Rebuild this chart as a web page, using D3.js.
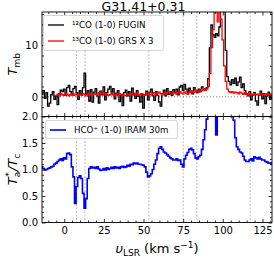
<!DOCTYPE html>
<html><head><meta charset="utf-8">
<script src="https://cdn.jsdelivr.net/npm/d3@7"></script>
<style>body{margin:0;background:#fff} text{font-family:"DejaVu Sans",sans-serif}</style>
</head><body><svg id="c" width="274" height="259"></svg>
<script>
// channel grids (km/s), 1 km/s channels
const co12Start = -14, co13Start = -5, hcoStart = -14;
// 12CO (1-0) FUGIN, Tmb
const co12 = [
 0.5,1.2,-0.3,0.8,-1.8,-1.2,0.4,1.0,-0.5,0.2,-1.5,0.6,1.3,1.0,
 1.5,0.3,1.8,2.2,1.0,0.4,1.6,2.0,0.8,-0.5,
 1.2,0.6,1.8,4.6,0.5,1.2,-0.8,1.4,-1.0,0.9,
 1.6,0.2,-1.2,1.1,0.4,1.9,-0.6,0.8,1.5,2.0,
 0.9,1.6,-0.4,0.7,1.2,-0.9,0.3,-1.7,0.8,1.3,
 0.2,1.0,-0.8,1.7,0.5,-0.3,1.2,0.1,-1.0,0.6,
 -2.2,0.4,1.1,-0.6,0.9,1.5,0.2,-0.7,1.0,0.3,
 -1.0,-1.8,0.6,1.3,0.2,1.6,0.5,1.0,0.3,1.4,
 0.8,1.5,0.4,1.9,2.2,1.2,2.4,1.5,0.9,1.7,
 1.1,0.6,1.8,1.2,0.8,1.5,1.0,1.9,1.6,1.3,
 1.8,3.5,9.5,13.9,12.0,11.5,12.2,11.8,13.5,18.0,
 19.0,16.5,9.0,3.9,3.0,2.3,3.3,2.6,3.6,2.2,
 2.9,3.8,1.8,2.5,1.2,0.5,0.2,1.0,-0.6,0.4,
 0.8,-0.8,-1.6,0.3,1.1,-0.4,0.6,-1.3,0.2,0.9,-0.5,0.4
];
// 13CO (1-0) GRS x 3, Tmb
const co13 = [
 0.3,0.5,0.2,0.6,0.4,0.3,0.7,0.5,0.2,0.4,0.6,0.3,0.5,0.4,0.2,
 0.5,0.3,0.6,0.4,0.2,0.5,0.7,0.3,0.4,0.6,0.5,0.3,0.8,0.9,0.6,0.4,0.7,0.5,0.3,0.4,
 0.6,0.4,0.2,0.5,0.3,0.6,0.4,0.5,0.3,0.2,0.5,0.4,0.6,0.3,0.5,0.7,0.4,0.3,0.5,0.6,
 0.4,0.3,0.5,0.7,0.5,0.4,0.6,0.8,0.5,0.7,0.9,0.6,0.4,0.7,0.5,0.8,1.0,0.7,0.6,0.9,
 0.7,0.5,0.8,1.0,0.7,0.6,0.9,0.7,0.5,0.8,1.2,1.0,0.8,1.3,1.1,0.9,1.4,1.2,1.6,1.3,
 1.5,2.0,4.5,9.5,13.0,16.8,16.5,14.5,16.2,15.0,11.0,6.0,3.0,1.5,1.0,0.8,1.0,0.7,0.9,0.8,
 0.6,0.9,0.7,0.5,0.8,0.6,0.4,0.7,0.5,0.3,0.6,0.4,0.5,0.3,0.6,0.4,0.5,0.3,0.6,0.4,0.5,0.4
];
// HCO+ (1-0) IRAM 30m, Ta*/Tc
const hco = [
 1.05,1.02,0.99,1.0,1.02,1.03,1.05,1.06,1.1,1.12,1.15,1.18,1.2,1.17,
 1.22,1.2,1.3,1.31,1.28,1.05,0.86,0.36,0.68,0.85,
 0.88,0.83,0.55,0.27,0.45,0.83,1.02,1.05,1.03,1.04,
 1.02,1.05,1.01,0.98,0.99,1.02,0.99,1.03,1.0,1.02,
 1.04,1.02,1.05,1.03,1.04,1.02,1.05,1.06,1.04,1.05,
 1.08,1.06,1.1,1.09,1.12,1.11,1.12,1.1,1.1,1.09,
 1.08,1.05,0.95,0.86,0.88,0.92,1.0,1.1,1.18,1.3,
 1.4,1.43,1.38,1.33,1.31,1.28,1.25,1.22,1.2,1.18,
 1.18,1.2,1.17,1.18,1.1,1.05,1.2,1.27,1.32,1.38,
 1.4,1.37,1.3,1.22,1.2,1.24,1.27,1.38,1.56,1.75,
 1.95,2.3,2.6,2.6,2.5,2.2,1.65,2.2,2.6,2.8,
 2.7,2.6,2.5,2.4,2.3,2.2,2.1,1.93,1.6,1.43,
 1.38,1.33,1.31,1.25,1.18,1.15,1.15,1.18,1.2,1.16,
 1.24,1.22,1.2,1.23,1.2,1.18,1.18,1.15,1.14,1.12,1.12,1.1
];
const velLines = [7.8, 13.1, 53.4, 75, 83.6, 117.2];
const xTicks = [0, 25, 50, 75, 100, 125];
const xMinor = [-10,-5,5,10,15,20,30,35,40,45,55,60,65,70,80,85,90,95,105,110,115,120,130];
const topYTicks = [0, 10];
const topYMinor = [-2,2,4,6,8,12,14,16];
const botYTicks = [0, 0.5, 1, 1.5, 2];
const botYLabels = ["0.0","0.5","1.0","1.5","2.0"];
const botYMinor = [0.1,0.2,0.3,0.4,0.6,0.7,0.8,0.9,1.1,1.2,1.3,1.4,1.6,1.7,1.8,1.9];
const title = "G31.41+0.31";

const svg = d3.select("#c");
const L = 42, R = 272;
const x = d3.scaleLinear().domain([-14, 131]).range([L, R]);
const yTop = d3.scaleLinear().domain([-3.8, 16.4]).range([116.5, 12]);
const yBot = d3.scaleLinear().domain([0, 2]).range([222.5, 116.5]);

const toPts = (arr, start) => arr.map((v, i) => [start + i, v]);

function panel(id, y) {
  const g = svg.append("g");
  svg.append("clipPath").attr("id", id).append("rect")
    .attr("x", L).attr("y", y.range()[1]).attr("width", R - L).attr("height", y.range()[0] - y.range()[1]);
  const inner = g.append("g").attr("clip-path", `url(#${id})`);
  inner.selectAll("line.v").data(velLines).join("line")
    .attr("x1", d => x(d)).attr("x2", d => x(d))
    .attr("y1", y.range()[1]).attr("y2", y.range()[0])
    .attr("stroke", "#aaa").attr("stroke-width", 0.8).attr("stroke-dasharray", "2,1.5");
  return {g, inner};
}

function drawAxes(g, y, yMaj, yMin, yFmt, xLabels) {
  const y0 = y.range()[0], y1 = y.range()[1];
  const style = sel => { sel.select(".domain").remove(); sel.selectAll("line").attr("stroke", "#000").attr("stroke-width", 0.8); sel.selectAll("text").attr("font-size", 10).attr("fill", "#000").attr("font-family", "DejaVu Sans"); };
  g.append("g").attr("transform", `translate(0,${y0})`).call(d3.axisBottom(x).tickValues(xTicks).tickSize(-3.5).tickPadding(4).tickFormat(xLabels ? d3.format("d") : () => "")).call(style);
  g.append("g").attr("transform", `translate(0,${y0})`).call(d3.axisBottom(x).tickValues(xMinor).tickSize(-2).tickFormat(() => "")).call(style);
  g.append("g").attr("transform", `translate(0,${y1})`).call(d3.axisTop(x).tickValues(xTicks).tickSize(-3.5).tickFormat(() => "")).call(style);
  g.append("g").attr("transform", `translate(0,${y1})`).call(d3.axisTop(x).tickValues(xMinor).tickSize(-2).tickFormat(() => "")).call(style);
  g.append("g").attr("transform", `translate(${L},0)`).call(d3.axisLeft(y).tickValues(yMaj).tickSize(-3.5).tickPadding(4).tickFormat(yFmt)).call(style);
  g.append("g").attr("transform", `translate(${L},0)`).call(d3.axisLeft(y).tickValues(yMin).tickSize(-2).tickFormat(() => "")).call(style);
  g.append("g").attr("transform", `translate(${R},0)`).call(d3.axisRight(y).tickValues(yMaj).tickSize(-3.5).tickFormat(() => "")).call(style);
  g.append("g").attr("transform", `translate(${R},0)`).call(d3.axisRight(y).tickValues(yMin).tickSize(-2).tickFormat(() => "")).call(style);
  g.append("rect").attr("x", L).attr("y", y1).attr("width", R - L).attr("height", y0 - y1)
    .attr("fill", "none").attr("stroke", "#000").attr("stroke-width", 0.9);
}

// top panel
const topP = panel("clipTop", yTop);
topP.inner.append("line").attr("x1", L).attr("x2", R).attr("y1", yTop(0)).attr("y2", yTop(0))
  .attr("stroke", "#777").attr("stroke-width", 1).attr("stroke-dasharray", "1,2");
const lineTop = d3.line().x(d => x(d[0])).y(d => yTop(d[1])).curve(d3.curveStep);
topP.inner.append("path").attr("d", lineTop(toPts(co12, co12Start))).attr("fill", "none").attr("stroke", "#000").attr("stroke-width", 1.3);
topP.inner.append("path").attr("d", lineTop(toPts(co13, co13Start))).attr("fill", "none").attr("stroke", "#ff0000").attr("stroke-width", 1.3);
drawAxes(topP.g, yTop, topYTicks, topYMinor, d3.format("d"), false);

// bottom panel
const botP = panel("clipBot", yBot);
const lineBot = d3.line().x(d => x(d[0])).y(d => yBot(d[1])).curve(d3.curveStep);
botP.inner.append("path").attr("d", lineBot(toPts(hco, hcoStart))).attr("fill", "none").attr("stroke", "#0000ff").attr("stroke-width", 1.6);
drawAxes(botP.g, yBot, botYTicks, botYMinor, (d, i) => botYLabels[i], true);

// legends
const lg1 = svg.append("g");
lg1.append("rect").attr("x", 43.5).attr("y", 15.5).attr("width", 120).attr("height", 35).attr("rx", 2)
  .attr("fill", "#fff").attr("fill-opacity", 0.85).attr("stroke", "#ccc").attr("stroke-width", 0.8);
[["¹²CO (1-0) FUGIN", "#000", 25], ["¹³CO (1-0) GRS X 3", "#ff0000", 41]].forEach(([t, c, yy]) => {
  lg1.append("line").attr("x1", 48).attr("x2", 64).attr("y1", yy).attr("y2", yy).attr("stroke", c).attr("stroke-width", 1.3);
  lg1.append("text").attr("x", 72).attr("y", yy + 3).attr("font-size", 8.7).text(t);
});
const lg2 = svg.append("g");
lg2.append("rect").attr("x", 45.5).attr("y", 120.5).attr("width", 132).attr("height", 18).attr("rx", 2)
  .attr("fill", "#fff").attr("fill-opacity", 0.85).attr("stroke", "#ccc").attr("stroke-width", 0.8);
lg2.append("line").attr("x1", 50).attr("x2", 66).attr("y1", 130).attr("y2", 130).attr("stroke", "#0000ff").attr("stroke-width", 1.6);
lg2.append("text").attr("x", 74).attr("y", 133).attr("font-size", 8.7).text("HCO⁺ (1-0) IRAM 30m");

// title
svg.append("text").attr("x", 143.5).attr("y", 10.5).attr("text-anchor", "middle").attr("font-size", 12.5).text(title);

// axis labels
const yl1 = svg.append("text").attr("transform", `translate(17,${(12 + 116.5) / 2}) rotate(-90)`).attr("text-anchor", "middle").attr("font-size", 13);
yl1.append("tspan").attr("font-style", "italic").text("T");
yl1.append("tspan").attr("font-size", 9).attr("dy", 3).text("mb");

const yl2 = svg.append("text").attr("transform", `translate(17,${(116.5 + 222.5) / 2}) rotate(-90)`).attr("text-anchor", "middle").attr("font-size", 13);
yl2.append("tspan").attr("font-style", "italic").text("T");
yl2.append("tspan").attr("font-size", 9).attr("dy", 3).text("a");
yl2.append("tspan").attr("font-size", 9).attr("dy", -8).attr("dx", -5).text("*");
yl2.append("tspan").attr("dy", 5).attr("dx", 1).attr("font-style", "italic").text("/T");
yl2.append("tspan").attr("font-size", 9).attr("dy", 3).text("c");

const xl = svg.append("text").attr("x", 157).attr("y", 253).attr("text-anchor", "middle").attr("font-size", 13);
xl.append("tspan").attr("font-style", "italic").text("υ");
xl.append("tspan").attr("font-size", 9).attr("dy", 3).text("LSR");
xl.append("tspan").attr("dy", -3).text(" (km s");
xl.append("tspan").attr("font-size", 9).attr("dy", -5).text("−1");
xl.append("tspan").attr("dy", 5).text(")");
</script></body></html>
